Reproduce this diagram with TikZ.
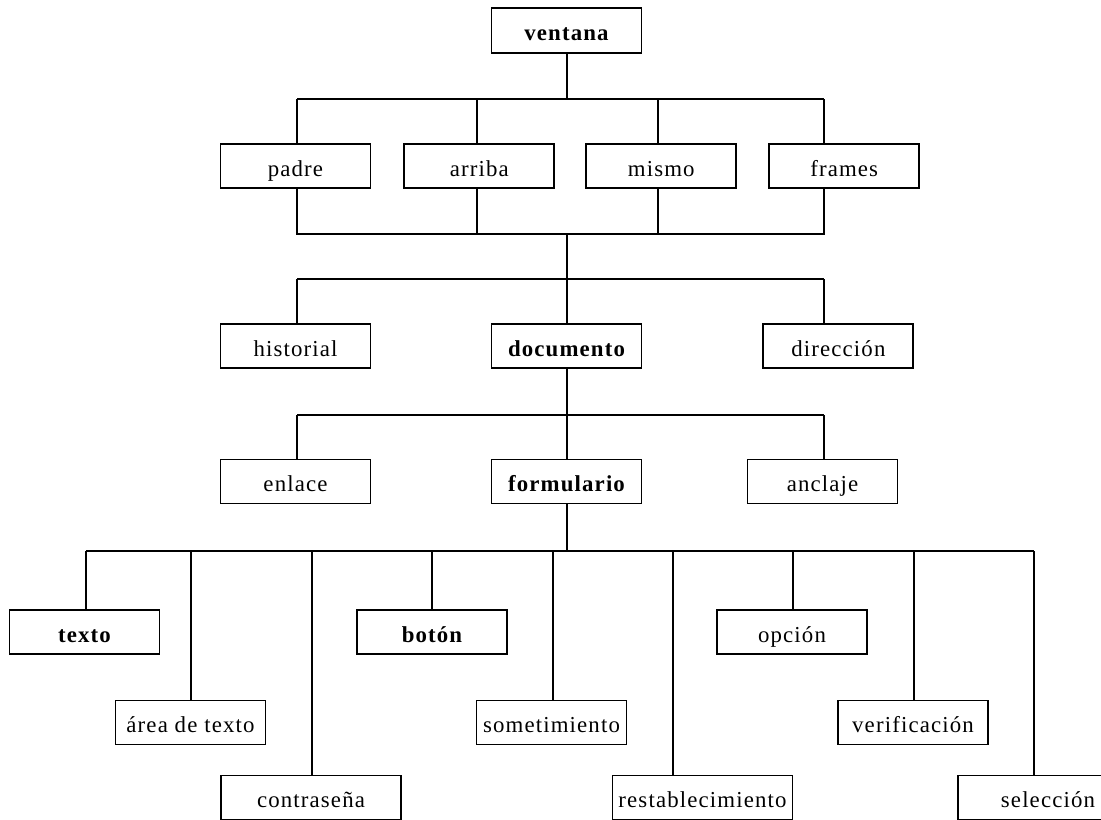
\documentclass[tikz,border=0pt]{standalone}
\usepackage{fontspec}
\setmainfont{Liberation Serif}[LetterSpace=5]
\usepackage{tikz}
\usetikzlibrary{positioning}

\begin{document}
\begin{tikzpicture}[
  x=0.02cm,y=-0.02cm,
  node distance=1.84cm and 0.62cm,
  box/.style={draw,line width=1.1pt,minimum width=3cm,minimum height=0.88cm,inner sep=0pt,text height=13.5pt,text depth=1.8pt,font=\fontsize{13}{15}\selectfont},
  strong/.style={box,font=\fontsize{13}{15}\selectfont\bfseries},
  wide/.style={box,minimum width=3.6cm},
  link/.style={line width=1.1pt}
]
  \useasboundingbox (0,0) rectangle (1101,819);
  \clip (0,0) rectangle (1101,819);

  \node[strong,minimum height=0.9cm] (ventana) at (566.5,30.5) {ventana};
  \node[box] (padre) at (295.5,166) {padre};
  \node[box,right=0.64cm of padre] (arriba) {arriba};
  \node[box,right=0.6cm of arriba] (mismo) {mismo};
  \node[box,right=0.62cm of mismo] (frames) {frames};

  \node[box] (historial) at (295.5,346) {historial};
  \node[strong] (documento) at (566.5,346) {documento};
  \node[box,right=2.4cm of documento] (direccion) {dirección};

  \node[box] (enlace) at (295.5,481.5) {enlace};
  \node[strong] (formulario) at (566.5,481.5) {formulario};
  \node[box] (anclaje) at (822.5,481.5) {anclaje};

  \node[strong] (texto) at (84.5,632) {texto};
  \node[strong] (boton) at (432,632) {botón};
  \node[box] (opcion) at (792,632) {opción};
  \node[box] (area) at (190.5,722.5) {área de texto};
  \node[box] (sometimiento) at (551.5,722.5) {sometimiento};
  \node[box] (verificacion) at (913,722.5) {verificación};
  \node[wide] (contrasena) at (311,797.5) {contraseña};
  \node[wide] (restablecimiento) at (702.5,797.5) {restablecimiento};
  \node[wide] (seleccion) at (1048,797.5) {selección};

  % ventana and its four children
  \coordinate (v-bus) at (567,99);
  \coordinate (padre-j) at (297,99);
  \coordinate (arriba-j) at (477,99);
  \coordinate (mismo-j) at (658,99);
  \coordinate (frames-j) at (824,99);
  \draw[link] (v-bus |- ventana.south) -- (v-bus);
  \draw[link] (padre-j) -- (frames-j);
  \draw[link] (padre-j) -- (padre-j |- padre.north);
  \draw[link] (arriba-j) -- (arriba-j |- arriba.north);
  \draw[link] (mismo-j) -- (mismo-j |- mismo.north);
  \draw[link] (frames-j) -- (frames-j |- frames.north);

  % the four join again
  \coordinate (up-bus) at (567,234);
  \draw[link] (padre-j |- padre.south) -- (padre-j |- up-bus) -- (frames-j |- up-bus) -- (frames-j |- frames.south);
  \draw[link] (arriba-j |- arriba.south) -- (arriba-j |- up-bus);
  \draw[link] (mismo-j |- mismo.south) -- (mismo-j |- up-bus);

  % historial, documento, direccion
  \coordinate (doc-bus) at (567,279);
  \coordinate (hist-j) at (297,279);
  \coordinate (dir-j) at (824,279);
  \draw[link] (up-bus) -- (doc-bus);
  \draw[link] (hist-j) -- (dir-j);
  \draw[link] (hist-j) -- (hist-j |- historial.north);
  \draw[link] (doc-bus) -- (doc-bus |- documento.north);
  \draw[link] (dir-j) -- (dir-j |- direccion.north);

  % enlace, formulario, anclaje
  \coordinate (enl-j) at (297,415);
  \coordinate (ancl-j) at (824,415);
  \draw[link] (doc-bus |- documento.south) -- (doc-bus |- formulario.north);
  \draw[link] (enl-j) -- (ancl-j);
  \draw[link] (enl-j) -- (enl-j |- enlace.north);
  \draw[link] (ancl-j) -- (ancl-j |- anclaje.north);

  % form elements
  \coordinate (f-bus) at (567,551);
  \coordinate (texto-j) at (86,551);
  \coordinate (area-j) at (191,551);
  \coordinate (contrasena-j) at (312,551);
  \coordinate (boton-j) at (432,551);
  \coordinate (sometimiento-j) at (553,551);
  \coordinate (restablecimiento-j) at (673,551);
  \coordinate (opcion-j) at (793,551);
  \coordinate (verificacion-j) at (914,551);
  \coordinate (seleccion-j) at (1034,551);
  \draw[link] (f-bus |- formulario.south) -- (f-bus);
  \draw[link] (texto-j) -- (seleccion-j);
  \draw[link] (texto-j) -- (texto-j |- texto.north);
  \draw[link] (area-j) -- (area-j |- area.north);
  \draw[link] (contrasena-j) -- (contrasena-j |- contrasena.north);
  \draw[link] (boton-j) -- (boton-j |- boton.north);
  \draw[link] (sometimiento-j) -- (sometimiento-j |- sometimiento.north);
  \draw[link] (restablecimiento-j) -- (restablecimiento-j |- restablecimiento.north);
  \draw[link] (opcion-j) -- (opcion-j |- opcion.north);
  \draw[link] (verificacion-j) -- (verificacion-j |- verificacion.north);
  \draw[link] (seleccion-j) -- (seleccion-j |- seleccion.north);
\end{tikzpicture}
\end{document}
